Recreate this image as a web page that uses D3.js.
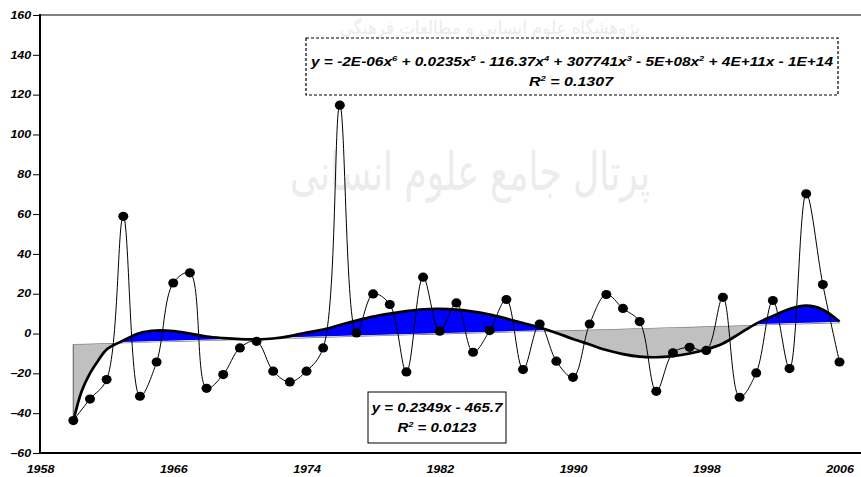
<!DOCTYPE html>
<html><head><meta charset="utf-8">
<script src="https://cdn.jsdelivr.net/npm/d3@7"></script>
<style>body{margin:0;background:#fff} svg{display:block}</style>
</head><body><svg id="c" width="861" height="477"></svg>
<script>
// ---------- data ----------
const years = [1960,1961,1962,1963,1964,1965,1966,1967,1968,1969,1970,1971,1972,1973,1974,1975,1976,1977,1978,1979,1980,1981,1982,1983,1984,1985,1986,1987,1988,1989,1990,1991,1992,1993,1994,1995,1996,1997,1998,1999,2000,2001,2002,2003,2004,2005,2006];
const values = [-43.7,-32.9,-23.1,58.9,-31.5,-14.3,25.4,30.5,-27.5,-20.6,-7.2,-3.9,-18.9,-24.3,-18.9,-7.2,114.7,0.3,19.9,14.6,-19.3,28.3,1.2,15.4,-9.4,1.5,17.1,-18.1,4.8,-13.9,-22,4.8,19.6,12.6,6.0,-29,-9.7,-6.9,-8.5,18.2,-32,-19.8,16.6,-17.6,70.2,24.6,-14.3];
// polynomial (6th order) trend curve
const trendYears = [1960,1960.5,1961,1961.5,1962,1963,1964,1965,1966,1967,1968,1969,1970,1971,1972,1973,1974,1975,1976,1977,1978,1979,1980,1981,1982,1983,1984,1985,1986,1987,1988,1989,1990,1991,1992,1993,1994,1995,1996,1997,1998,1999,2000,2001,2002,2003,2004,2005,2006];
const trendValues = [-44,-29,-20,-13.5,-8,-3.5,0.3,1.5,1.2,0,-1.5,-2.3,-2.8,-2.9,-2.5,-1.3,0.5,2,4.3,6.5,8.5,10,11.3,12.2,12.4,12,11,9.5,7.5,5.3,3,0.3,-2.7,-5.5,-8.3,-10.3,-11.6,-11.9,-11.3,-10,-8,-5,0,5,8.8,12.3,14,12,6];
// linear trend end points
const linearYears = [1960, 2006];
const linearValues = [-5.3, 5.5];
const yTicks = [-60,-40,-20,0,20,40,60,80,100,120,140,160];
const xTicks = [1958,1966,1974,1982,1990,1998,2006];
const polyEqParts = ["y = -2E-06x","^6"," + 0.0235x","^5"," - 116.37x","^4"," + 307741x","^3"," - 5E+08x","^2"," + 4E+11x - 1E+14"];
const polyR2Parts = ["R","^2"," = 0.1307"];
const linEqParts = ["y = 0.2349x - 465.7"];
const linR2Parts = ["R","^2"," = 0.0123"];
const watermarkTop = "پژوهشگاه علوم انسانی و مطالعات فرهنگی";
const watermarkMid = "پرتال جامع علوم انسانی";

// ---------- setup ----------
const W = 861, H = 477;
const svg = d3.select("#c");
const FONT = "'Liberation Sans', Arial, sans-serif";
const SX = 1.25;
const x = d3.scaleLinear().domain([1958, 2006]).range([40, 839.5]);
const y = d3.scaleLinear().domain([-60, 160]).range([453, 15]);
const lin = d3.scaleLinear().domain(linearYears).range(linearValues);

// watermark
const wm = svg.append("g").attr("fill", "#ececec").style("font-family", "'DejaVu Sans', sans-serif").attr("direction", "rtl");
wm.append("text").attr("x", 490).attr("y", 34).attr("text-anchor", "middle").attr("font-size", 18)
  .attr("textLength", 300).attr("lengthAdjust", "spacingAndGlyphs").text(watermarkTop);
wm.append("text").attr("x", 470).attr("y", 190).attr("text-anchor", "middle").attr("font-size", 52)
  .attr("textLength", 360).attr("lengthAdjust", "spacingAndGlyphs").text(watermarkMid);

// clip paths above / below the linear trend
const defs = svg.append("defs");
const xa = x(1950), xb = x(2015);
const ya = y(lin(1950)), yb = y(lin(2015));
defs.append("clipPath").attr("id", "above").append("path")
  .attr("d", `M${xa},0L${xb},0L${xb},${yb - 0.7}L${xa},${ya - 0.7}Z`);
defs.append("clipPath").attr("id", "below").append("path")
  .attr("d", `M${xa},${H}L${xb},${H}L${xb},${yb}L${xa},${ya}Z`);

const trend = trendYears.map((t, i) => ({t, v: trendValues[i]}));
const area = d3.area().x(d => x(d.t)).y0(d => y(lin(d.t))).y1(d => y(d.v)).curve(d3.curveCatmullRom);
svg.append("path").datum(trend).attr("d", area).attr("fill", "#c0c0c0")
  .attr("stroke", "#707070").attr("stroke-width", 1.2).attr("clip-path", "url(#below)");
svg.append("path").datum(trend).attr("d", area).attr("fill", "#0000ff").attr("clip-path", "url(#above)");

// polynomial trend line
svg.append("path").datum(trend)
  .attr("d", d3.line().x(d => x(d.t)).y(d => y(d.v)).curve(d3.curveCatmullRom))
  .attr("fill", "none").attr("stroke", "#000").attr("stroke-width", 2.7);

// data line
const pts = years.map((t, i) => ({t, v: values[i]}));
svg.append("path").datum(pts)
  .attr("d", d3.line().x(d => x(d.t)).y(d => y(d.v)).curve(d3.curveCatmullRom))
  .attr("fill", "none").attr("stroke", "#000").attr("stroke-width", 1);
svg.append("g").selectAll("ellipse").data(pts).join("ellipse")
  .attr("cx", d => x(d.t)).attr("cy", d => y(d.v)).attr("rx", 5).attr("ry", 4.6).attr("fill", "#000");

// axes
const yAxis = svg.append("g").attr("transform", `translate(40,0)`)
  .call(d3.axisLeft(y).tickValues(yTicks).tickSize(7).tickFormat(d3.format("d")));
yAxis.select(".domain").remove();
yAxis.selectAll(".tick line").attr("stroke", "#000");
yAxis.selectAll(".tick text").attr("x", -7).attr("transform", `scale(${SX},1)`)
  .style("font-family", FONT).style("font-weight", "bold").style("font-style", "italic")
  .attr("font-size", 10).attr("fill", "#000");

const xAxis = svg.append("g").attr("transform", `translate(0,453)`)
  .call(d3.axisBottom(x).tickValues(xTicks).tickSize(0).tickPadding(13).tickFormat(d3.format("d")));
xAxis.select(".domain").remove();
xAxis.selectAll(".tick text").attr("transform", `scale(${SX},1)`)
  .style("font-family", FONT).style("font-weight", "bold").style("font-style", "italic")
  .attr("font-size", 10).attr("fill", "#000");

// frame
svg.append("line").attr("x1", 40).attr("x2", W).attr("y1", 15).attr("y2", 15).attr("stroke", "#000").attr("stroke-width", 1.2);
svg.append("line").attr("x1", 40).attr("x2", 40).attr("y1", 14).attr("y2", 454).attr("stroke", "#000").attr("stroke-width", 2);
svg.append("line").attr("x1", 39).attr("x2", W).attr("y1", 453).attr("y2", 453).attr("stroke", "#000").attr("stroke-width", 2);

// text helper
function richText(cx, by, parts, size, target) {
  const g = svg.append("g");
  const t = g.append("text").attr("text-anchor", "middle")
    .style("font-family", FONT).style("font-weight", "bold").style("font-style", "italic")
    .attr("font-size", size).attr("fill", "#000");
  let raised = false;
  parts.forEach(p => {
    const sup = p.startsWith("^");
    const ts = t.append("tspan").text(sup ? p.slice(1) : p);
    if (sup) { ts.attr("dy", -5).attr("font-size", size * 0.6); raised = true; }
    else if (raised) { ts.attr("dy", 5); raised = false; }
  });
  let sx = SX;
  if (target) { const w = t.node().getBBox().width; if (w > 0) sx = target / w; }
  g.attr("transform", `translate(${cx},${by}) scale(${sx},1)`);
  return t;
}

// polynomial equation box
svg.append("rect").attr("x", 306).attr("y", 38).attr("width", 532).attr("height", 57)
  .attr("fill", "none").attr("stroke", "#000").attr("stroke-width", 1.2).attr("stroke-dasharray", "3,2");
richText(572, 66, polyEqParts, 12, 524);
richText(571, 86, polyR2Parts, 12, 86);

// linear equation box
svg.append("rect").attr("x", 368).attr("y", 392).attr("width", 138).attr("height", 51)
  .attr("fill", "#fff").attr("stroke", "#000").attr("stroke-width", 1);
richText(437, 412, linEqParts, 12);
richText(437, 432, linR2Parts, 12);
</script></body></html>
